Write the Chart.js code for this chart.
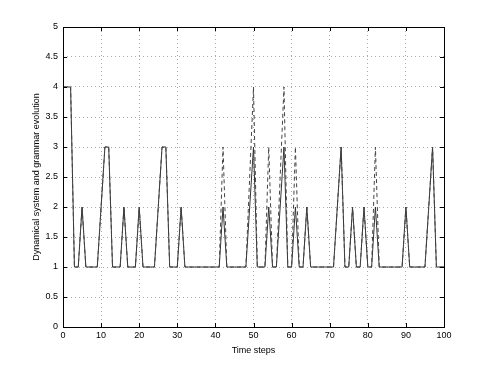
<!DOCTYPE html>
<html>
<head>
<meta charset="utf-8">
<script src="https://cdn.jsdelivr.net/npm/chart.js@4/dist/chart.umd.min.js"></script>
<style>
  html, body { margin: 0; padding: 0; background: #fff; }
  #wrap { width: 491px; height: 368px; }
</style>
</head>
<body>
<div id="wrap"><canvas id="myChart" width="491" height="368"></canvas></div>
<script>
// time steps 0..100
const steps = [];
for (let i = 0; i <= 100; i++) steps.push(i);

const systemValues = [
  4, 4, 4, 1, 1, 2, 1, 1, 1, 1,
  2, 3, 3, 1, 1, 1, 2, 1, 1, 1,
  2, 1, 1, 1, 1, 2, 3, 3, 1, 1,
  1, 2, 1, 1, 1, 1, 1, 1, 1, 1,
  1, 1, 2, 1, 1, 1, 1, 1, 1, 2,
  3, 1, 1, 1, 2, 1, 1, 2, 3, 1,
  1, 2, 1, 1, 2, 1, 1, 1, 1, 1,
  1, 1, 2, 3, 1, 1, 2, 1, 1, 2,
  1, 1, 2, 1, 1, 1, 1, 1, 1, 1,
  2, 1, 1, 1, 1, 1, 2, 3, 1, 1,
  1
];

const grammarValues = [
  4, 4, 4, 1, 1, 2, 1, 1, 1, 1,
  2, 3, 3, 1, 1, 1, 2, 1, 1, 1,
  2, 1, 1, 1, 1, 2, 3, 3, 1, 1,
  1, 2, 1, 1, 1, 1, 1, 1, 1, 1,
  1, 1, 3, 1, 1, 1, 1, 1, 1, 2.5,
  4, 1, 1, 1, 3, 1, 1, 2.5, 4, 1,
  1, 3, 1, 1, 2, 1, 1, 1, 1, 1,
  1, 1, 2, 3, 1, 1, 2, 1, 1, 2,
  1, 1, 3, 1, 1, 1, 1, 1, 1, 1,
  2, 1, 1, 1, 1, 1, 2, 3, 1, 1,
  1
];

const xTicks = [0, 10, 20, 30, 40, 50, 60, 70, 80, 90, 100];
const yTicks = [0, 0.5, 1, 1.5, 2, 2.5, 3, 3.5, 4, 4.5, 5];

const font = { family: 'Liberation Sans, Arial, sans-serif', size: 9 };

// box and inward ticks like the matlab figure
const framePlugin = {
  id: 'frame',
  afterDraw(chart) {
    const ctx = chart.ctx;
    const a = chart.chartArea;
    const xs = chart.scales.x, ys = chart.scales.y;
    ctx.save();
    ctx.strokeStyle = '#000';
    ctx.lineWidth = 1;
    ctx.beginPath();
    xTicks.forEach(v => {
      const px = Math.round(xs.getPixelForValue(v)) + 0.5;
      ctx.moveTo(px, a.bottom); ctx.lineTo(px, a.bottom - 4);
      ctx.moveTo(px, a.top); ctx.lineTo(px, a.top + 4);
    });
    yTicks.forEach(v => {
      const py = Math.round(ys.getPixelForValue(v)) + 0.5;
      ctx.moveTo(a.left, py); ctx.lineTo(a.left + 4, py);
      ctx.moveTo(a.right, py); ctx.lineTo(a.right - 4, py);
    });
    ctx.stroke();
    ctx.strokeRect(Math.round(a.left) + 0.5, Math.round(a.top) + 0.5,
      Math.round(a.right - a.left), Math.round(a.bottom - a.top));
    ctx.restore();
  }
};

const ctx = document.getElementById('myChart').getContext('2d');
const myChart = new Chart(ctx, {
  type: 'line',
  data: {
    datasets: [{
      label: 'grammar',
      data: steps.map((s, i) => ({ x: s, y: grammarValues[i] })),
      borderColor: '#444',
      borderWidth: 1,
      borderDash: [4, 3],
      pointRadius: 0,
      tension: 0,
      fill: false
    }, {
      label: 'system',
      data: steps.map((s, i) => ({ x: s, y: systemValues[i] })),
      borderColor: '#333',
      borderWidth: 1,
      pointRadius: 0,
      tension: 0,
      fill: false
    }]
  },
  options: {
    responsive: false,
    animation: false,
    layout: { padding: { top: 27, right: 47, bottom: 12, left: 0 } },
    plugins: {
      legend: { display: false },
      tooltip: { enabled: false }
    },
    scales: {
      x: {
        type: 'linear',
        min: 0, max: 100,
        afterBuildTicks: s => { s.ticks = xTicks.map(v => ({ value: v })); },
        afterFit: s => { s.height = 29; },
        ticks: { color: '#000', font: font, padding: 3, maxRotation: 0, callback: v => String(v) },
        grid: { color: '#aaa', drawTicks: false, lineWidth: 1 },
        border: { display: false, dash: [1, 3] },
        title: { display: true, text: 'Time steps', color: '#000', font: font, padding: { top: 1, bottom: 0 } }
      },
      y: {
        type: 'linear',
        min: 0, max: 5,
        afterBuildTicks: s => { s.ticks = yTicks.map(v => ({ value: v })); },
        afterFit: s => { s.width = 63; },
        ticks: { color: '#000', font: font, padding: 5, callback: v => String(v) },
        grid: { color: '#aaa', drawTicks: false, lineWidth: 1 },
        border: { display: false, dash: [1, 3] },
        title: { display: true, text: 'Dynamical system and grammar evolution', color: '#000', font: font, padding: { top: 31, bottom: 2 } }
      }
    }
  },
  plugins: [framePlugin]
});
</script>
</body>
</html>
